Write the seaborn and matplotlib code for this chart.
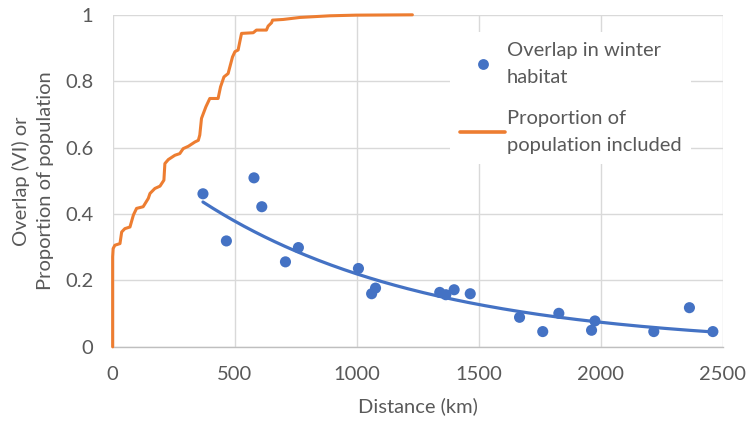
import numpy as np
import pandas as pd
import matplotlib
matplotlib.use("Agg")
import matplotlib.pyplot as plt
from matplotlib.lines import Line2D
import seaborn as sns

# Scatter: overlap in winter habitat vs distance
distance_km = [370, 466, 579, 611, 708, 761, 1007, 1061, 1077, 1340, 1365, 1399,
               1465, 1667, 1762, 1828, 1962, 1976, 2217, 2363, 2459]
overlap_vi = [0.461, 0.319, 0.509, 0.422, 0.256, 0.299, 0.236, 0.160, 0.177, 0.164,
              0.157, 0.172, 0.160, 0.089, 0.046, 0.101, 0.050, 0.078, 0.046, 0.118, 0.046]

# Cumulative proportion of population included vs distance
prop_dist = [0, 0, 2, 9, 30, 37, 50, 71, 85, 98, 125, 146, 153, 173, 194, 210, 214,
             228, 255, 275, 289, 310, 337, 351, 357, 364, 382, 398, 432, 442, 456,
             473, 491, 501, 514, 528, 576, 589, 630, 637, 651, 655, 699, 767, 889,
             998, 1228]
prop_pop = [0, 0.271, 0.296, 0.306, 0.311, 0.346, 0.356, 0.361, 0.397, 0.417, 0.422,
            0.447, 0.462, 0.477, 0.484, 0.502, 0.552, 0.564, 0.577, 0.582, 0.597,
            0.604, 0.617, 0.622, 0.638, 0.688, 0.723, 0.748, 0.748, 0.783, 0.813,
            0.823, 0.873, 0.889, 0.894, 0.944, 0.946, 0.954, 0.954, 0.966, 0.976,
            0.984, 0.986, 0.992, 0.997, 0.999, 1.0]

x_ticks = [0, 500, 1000, 1500, 2000, 2500]
y_ticks = [0, 0.2, 0.4, 0.6, 0.8, 1]
y_tick_labels = ["0", "0.2", "0.4", "0.6", "0.8", "1"]

BLUE = "#4472C4"
ORANGE = "#ED7D31"
TXT = "#595959"
GRID = "#D9D9D9"
FS = 14.5

sns.set_theme(style="whitegrid")
plt.rcParams["font.family"] = ["Lato", "DejaVu Sans"]

fig = plt.figure(figsize=(7.46, 4.23), dpi=100)
ax = fig.add_axes([0.151, 0.180, 0.818, 0.785])

scatter_df = pd.DataFrame({"Distance": distance_km, "Overlap": overlap_vi})
prop_df = pd.DataFrame({"Distance": prop_dist, "Proportion": prop_pop})

# exponential trendline fitted to the scatter data
b, log_a = np.polyfit(np.array(distance_km), np.log(np.array(overlap_vi)), 1)
trend_x = np.linspace(min(distance_km), max(distance_km), 200)
trend_df = pd.DataFrame({"Distance": trend_x, "Trend": np.exp(log_a) * np.exp(b * trend_x)})

sns.lineplot(data=prop_df, x="Distance", y="Proportion", ax=ax, color=ORANGE,
             linewidth=2.2, sort=False, estimator=None, clip_on=False, zorder=3)
sns.lineplot(data=trend_df, x="Distance", y="Trend", ax=ax, color=BLUE,
             linewidth=2.3, estimator=None, zorder=3)
sns.scatterplot(data=scatter_df, x="Distance", y="Overlap", ax=ax, color=BLUE,
                s=64, edgecolor="none", zorder=4)

ax.set_xlim(0, 2500)
ax.set_ylim(0, 1)
ax.set_xticks(x_ticks)
ax.set_xticklabels([str(t) for t in x_ticks])
ax.set_yticks(y_ticks)
ax.set_yticklabels(y_tick_labels)
ax.tick_params(axis="both", length=0, labelsize=FS, labelcolor=TXT)
ax.tick_params(axis="x", pad=14)
ax.tick_params(axis="y", pad=14)
ax.grid(True, color=GRID, linewidth=1.0)
for side in ["top", "right", "left"]:
    ax.spines[side].set_visible(False)
ax.spines["bottom"].set_color("#BFBFBF")
ax.spines["bottom"].set_linewidth(1.0)
ax.set_facecolor("white")

ax.set_xlabel("Distance (km)", fontsize=FS, color=TXT, labelpad=10)
ax.set_ylabel("Overlap (VI) or\nProportion of population", fontsize=FS, color=TXT,
              labelpad=8, linespacing=1.5)

handles = [
    Line2D([0], [0], marker="o", linestyle="none", color=BLUE, markersize=7.8,
           markeredgewidth=0),
    Line2D([0], [0], color=ORANGE, linewidth=2.6),
]
labels = ["Overlap in winter\nhabitat", "Proportion of\npopulation included"]
leg = ax.legend(handles, labels, loc="upper left", bbox_to_anchor=(0.537, 0.979),
                frameon=True, facecolor="white", edgecolor="none", framealpha=1,
                fontsize=FS, labelcolor=TXT, handlelength=2.2, handletextpad=0.1,
                labelspacing=1.2, borderpad=0.5, fancybox=False)
for t in leg.get_texts():
    t.set_linespacing(1.72)
leg.set_zorder(5)

fig.savefig("out.png", dpi=100, facecolor="white")
